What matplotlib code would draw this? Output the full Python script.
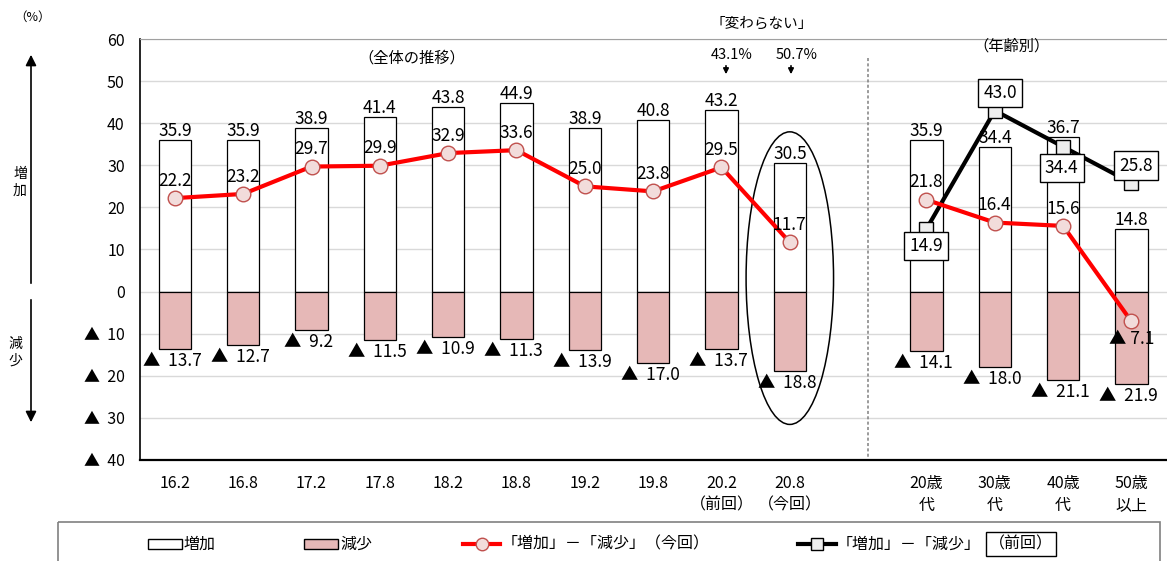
import numpy as np
import matplotlib
matplotlib.use("Agg")
import matplotlib.pyplot as plt
from matplotlib.patches import Ellipse, Rectangle
from matplotlib.lines import Line2D

plt.rcParams['font.family'] = ['Noto Sans CJK JP', 'DejaVu Sans']

# ---------------- data ----------------
periods = ["16.2", "16.8", "17.2", "17.8", "18.2", "18.8", "19.2", "19.8",
           "20.2\n（前回）", "20.8\n（今回）"]
increase = [35.9, 35.9, 38.9, 41.4, 43.8, 44.9, 38.9, 40.8, 43.2, 30.5]
decrease = [13.7, 12.7, 9.2, 11.5, 10.9, 11.3, 13.9, 17.0, 13.7, 18.8]
net_now = [22.2, 23.2, 29.7, 29.9, 32.9, 33.6, 25.0, 23.8, 29.5, 11.7]

ages = ["20歳\n代", "30歳\n代", "40歳\n代", "50歳\n以上"]
age_increase = [35.9, 34.4, 36.7, 14.8]
age_decrease = [14.1, 18.0, 21.1, 21.9]
age_net_now = [21.8, 16.4, 15.6, -7.1]
age_net_prev = [14.9, 43.0, 34.4, 25.8]

unchanged_labels = ["43.1%", "50.7%"]

# ---------------- styling ----------------
W, H = 1167, 561
PINK = '#e6b8b7'
RED = '#ff0000'
MFC = '#f2dcdb'
MEC = '#c0504d'
NUMFONT = 12.5

def fmt(v):
    return f"{v:.1f}" if v >= 0 else f"▲ {abs(v):.1f}"

fig = plt.figure(figsize=(W / 100, H / 100), dpi=100)
ax = fig.add_axes([140 / W, 1 - 460 / H, (W - 140) / W, 421 / H])

xm = np.arange(len(periods))
xa = np.arange(len(ages)) + len(periods) + 1
bw = 0.47

# bars
for xs, inc, dec in ((xm, increase, decrease), (xa, age_increase, age_decrease)):
    ax.bar(xs, inc, width=bw, color='white', edgecolor='black', lw=0.9, zorder=2)
    ax.bar(xs, -np.array(dec), width=bw, color=PINK, edgecolor='black', lw=0.9, zorder=2)
    for x, v in zip(xs, inc):
        ax.annotate(fmt(v), (x, v), xytext=(0, 0), textcoords='offset points',
                    ha='center', va='bottom', fontsize=NUMFONT, zorder=6)
    for x, v in zip(xs, dec):
        ax.annotate("▲  " + f"{v:.1f}", (x, -v), xytext=(-2, -2), textcoords='offset points',
                    ha='center', va='top', fontsize=NUMFONT, zorder=6)

# current net lines
for xs, ys in ((xm, net_now), (xa, age_net_now)):
    ax.plot(xs, ys, color=RED, lw=3, marker='o', ms=10.5, mfc=MFC, mec=MEC,
            mew=1.0, zorder=5)
    for x, v in zip(xs, ys):
        if v >= 0:
            ax.annotate(fmt(v), (x, v), xytext=(0, 6), textcoords='offset points',
                        ha='center', va='bottom', fontsize=NUMFONT, zorder=7)
        else:
            ax.annotate(fmt(v), (x, v), xytext=(0, -6), textcoords='offset points',
                        ha='center', va='top', fontsize=NUMFONT, zorder=7)

# previous net line (age)
ax.plot(xa, age_net_prev, color='black', lw=3, marker='s', ms=10, mfc='#eeeeee',
        mec='black', mew=1.0, zorder=4)
prev_offsets = [(0, -6, 'top'), (4, 6, 'bottom'), (-1, -9, 'top'), (3, 6, 'bottom')]
for x, v, (dx, dy, va) in zip(xa, age_net_prev, prev_offsets):
    ax.annotate(fmt(v), (x, v), xytext=(dx, dy), textcoords='offset points',
                ha='center', va=va, fontsize=NUMFONT, zorder=7,
                bbox=dict(boxstyle='square,pad=0.3', fc='white', ec='black', lw=1))

# ellipse around latest
ax.add_patch(Ellipse((xm[-1], 3.2), 1.28, 69.5, fill=False, ec='black', lw=1.1, zorder=3))

# divider
ax.plot([10.15, 10.15], [55.5, -39.5], color='#808080', ls=(0, (2, 1.5)), lw=1.1, zorder=1)

# axes styling
ax.set_xlim(-0.51, 14.52)
ax.set_ylim(-40, 60)
yt = np.arange(-40, 61, 10)
ax.set_yticks(yt)
ax.set_yticklabels([f"▲  {abs(v)}" if v < 0 else str(v) for v in yt], fontsize=11.5)
ax.set_xticks(np.concatenate([xm, xa]))
ax.set_xticklabels(periods + ages, fontsize=11.5, linespacing=1.35)
ax.tick_params(axis='both', length=0)
ax.tick_params(axis='y', pad=11)
ax.tick_params(axis='x', pad=11)
ax.grid(axis='y', color='#d9d9d9', lw=1.0, zorder=0)
ax.set_axisbelow(True)
ax.spines['right'].set_visible(False)
ax.spines['top'].set_color('#a0a0a0')
ax.spines['left'].set_color('black')
ax.spines['left'].set_linewidth(1.2)
ax.spines['bottom'].set_color('black')
ax.spines['bottom'].set_linewidth(1.6)

# ---------------- overlay in pixel coords ----------------
ov = fig.add_axes([0, 0, 1, 1], facecolor='none', zorder=10)
ov.set_xlim(0, W)
ov.set_ylim(H, 0)
ov.axis('off')

ov.text(33, 17, "（%）", ha='center', va='center', fontsize=9)
ov.annotate('', xy=(31, 52), xytext=(31, 286),
            arrowprops=dict(arrowstyle='-|>', color='black', lw=1.2, mutation_scale=16))
ov.annotate('', xy=(31, 425), xytext=(31, 297),
            arrowprops=dict(arrowstyle='-|>', color='black', lw=1.2, mutation_scale=16))
ov.text(20, 182, "増\n加", ha='center', va='center', fontsize=10, linespacing=1.25)
ov.text(15, 352, "減\n少", ha='center', va='center', fontsize=10, linespacing=1.25)

ov.text(412, 58, "（全体の推移）", ha='center', va='center', fontsize=11)
ov.text(1012, 46, "（年齢別）", ha='center', va='center', fontsize=11)
ov.text(762, 24, "「変わらない」", ha='center', va='center', fontsize=10.5)
for xc, lab in zip((732, 797), unchanged_labels):
    ov.text(xc, 55, lab, ha='center', va='center', fontsize=10.5)
    ov.annotate('', xy=(xc - 6, 77), xytext=(xc - 6, 63),
                arrowprops=dict(arrowstyle='-|>', color='black', lw=1.2, mutation_scale=8))

# legend
ov.add_patch(Rectangle((58, 522), 1102, 60, fill=False, ec='#808080', lw=1.2))
ly = 544
LF = 11.5
ov.add_patch(Rectangle((148, ly - 5), 34, 10, fc='white', ec='black', lw=1))
ov.text(184, ly, "増加", ha='left', va='center', fontsize=LF)
ov.add_patch(Rectangle((304, ly - 5), 34, 10, fc=PINK, ec='black', lw=1))
ov.text(340, ly, "減少", ha='left', va='center', fontsize=LF)
ov.add_line(Line2D([463, 500], [ly, ly], color=RED, lw=3, marker=None))
ov.plot([481.5], [ly], marker='o', ms=9, mfc=MFC, mec=MEC, color=RED)
ov.text(502, ly, "「増加」－「減少」（今回）", ha='left', va='center', fontsize=LF)
ov.add_line(Line2D([798, 836], [ly, ly], color='black', lw=3))
ov.plot([817], [ly], marker='s', ms=8, mfc='#eeeeee', mec='black')
ov.text(837, ly, "「増加」－「減少」", ha='left', va='center', fontsize=LF)
ov.text(1021, ly, "（前回）", ha='center', va='center', fontsize=LF,
        bbox=dict(boxstyle='square,pad=0.2', fc='white', ec='black', lw=1))

fig.savefig("out.png", dpi=100)
